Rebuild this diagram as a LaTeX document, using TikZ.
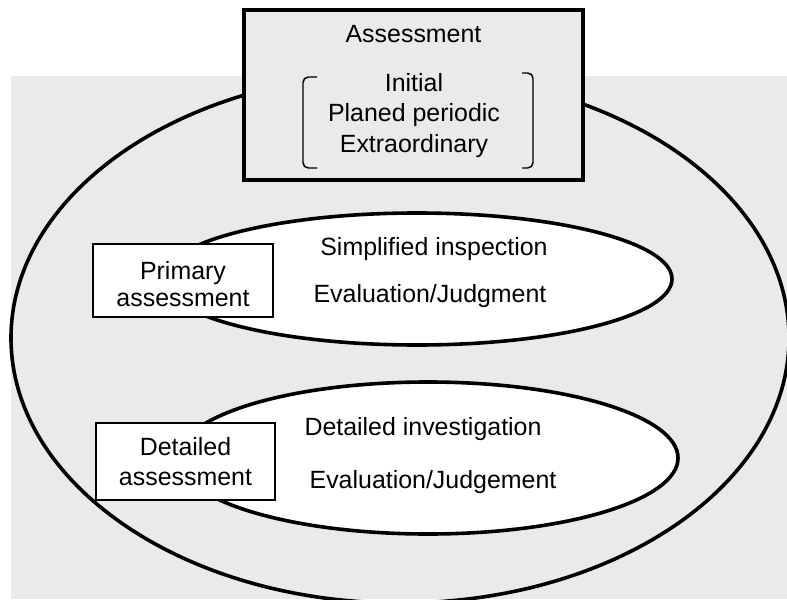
\documentclass[tikz,border=0pt]{standalone}
\usepackage{fontspec}
\setmainfont{Liberation Sans}
\usetikzlibrary{shapes.geometric}
\definecolor{bg}{RGB}{234,234,234}
\begin{document}
\begin{tikzpicture}[x=0.75pt,y=-0.75pt,
  txt/.style={anchor=base, inner sep=0pt, font=\fontsize{18.7pt}{22pt}\selectfont},
  bigell/.style={ellipse, draw, line width=2.7pt, inner sep=0pt},
  inell/.style={ellipse, draw, fill=white, line width=2.7pt, inner sep=0pt},
  smallbox/.style={rectangle, draw, fill=white, line width=1.1pt, inner sep=0pt},
  topbox/.style={rectangle, draw, fill=bg, line width=2.4pt, inner sep=0pt},
  brk/.style={line width=1.1pt, rounded corners=4pt}
]
\useasboundingbox (0,0) rectangle (787,599);
\fill[bg] (11,76) rectangle (787,599);
% outer ellipse
\node[bigell, minimum width=583.5pt, minimum height=397.5pt] (outer) at (400,338) {};
% inner ellipses
\node[inell, minimum width=382.5pt, minimum height=99pt] (ell1) at (417,279) {};
\node[inell, minimum width=375pt, minimum height=114pt] (ell2) at (428,458) {};
% small boxes
\node[smallbox, minimum width=135pt, minimum height=54.75pt] (pbox) at (183,280.5) {};
\node[smallbox, minimum width=134.25pt, minimum height=57.75pt] (dbox) at (185.5,461.5) {};
% top box
\node[topbox, minimum width=254.25pt, minimum height=127.5pt] (abox) at (413.5,95) {};
% brackets
\coordinate (lb1) at (317,77);
\coordinate (lb2) at (303,77);
\coordinate (lb3) at (303,168);
\coordinate (lb4) at (317,168);
\draw[brk] (lb1) -- (lb2) -- (lb3) -- (lb4);
\coordinate (rb1) at (522,73);
\coordinate (rb2) at (533,73);
\coordinate (rb3) at (533,168);
\coordinate (rb4) at (522,168);
\draw[brk] (rb1) -- (rb2) -- (rb3) -- (rb4);
% texts
\node[txt] (t1) at (413.5,43) {Assessment};
\node[txt] (t2) at (414,92) {Initial};
\node[txt] (t3) at (414,122) {Planed periodic};
\node[txt] (t4) at (414,152) {Extraordinary};
\node[txt] (t5) at (183,279) {Primary};
\node[txt] (t6) at (183,306) {assessment};
\node[txt] (t7) at (434,255) {Simplified inspection};
\node[txt] (t8) at (430,302) {Evaluation/Judgment};
\node[txt] (t9) at (185.5,455) {Detailed};
\node[txt] (t10) at (185.5,485) {assessment};
\node[txt] (t11) at (423,435) {Detailed investigation};
\node[txt] (t12) at (433,488) {Evaluation/Judgement};
\end{tikzpicture}
\end{document}
